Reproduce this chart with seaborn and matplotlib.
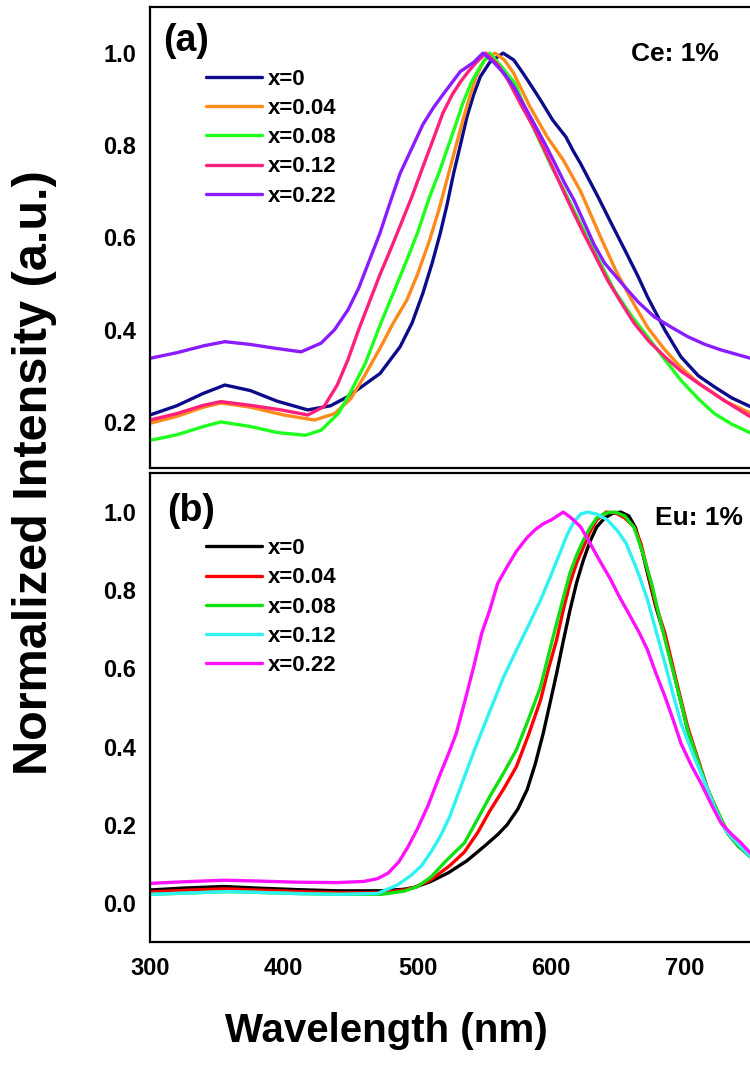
import numpy as np
import pandas as pd
import matplotlib
matplotlib.use("Agg")
import matplotlib.pyplot as plt
from matplotlib.ticker import FixedLocator, MultipleLocator, FormatStrFormatter
import seaborn as sns

# ---------------- data ----------------
labels = ["x=0", "x=0.04", "x=0.08", "x=0.12", "x=0.22"]
x_major = [300, 400, 500, 600, 700]
x_minor = [350, 450, 550, 650, 750]

# Panel (a) Ce: 1%
wl_a0 = [300, 320, 340, 356, 375, 395, 418, 435, 448, 460, 472, 487, 496, 504, 511, 517, 522, 527, 532, 537, 542, 547, 554, 564, 572, 579, 586, 592, 601, 611, 616, 622, 635, 645, 655, 665, 672, 685, 697, 710, 722, 735, 749]
ia_0 = [0.215, 0.235, 0.262, 0.28, 0.268, 0.245, 0.226, 0.235, 0.255, 0.28, 0.305, 0.363, 0.415, 0.479, 0.545, 0.609, 0.67, 0.739, 0.80, 0.862, 0.91, 0.949, 0.98, 1.0, 0.985, 0.956, 0.925, 0.898, 0.855, 0.818, 0.79, 0.76, 0.688, 0.63, 0.573, 0.515, 0.471, 0.399, 0.341, 0.30, 0.276, 0.252, 0.233]

wl_a1 = [300, 320, 340, 353, 375, 400, 423, 438, 450, 460, 472, 482, 492, 500, 509, 516, 522, 528, 534, 539, 544, 550, 558, 565, 572, 584, 597, 609, 622, 637, 648, 660, 672, 685, 697, 710, 730, 749]
ia_1 = [0.197, 0.212, 0.232, 0.241, 0.232, 0.215, 0.204, 0.218, 0.25, 0.298, 0.36, 0.415, 0.464, 0.52, 0.594, 0.66, 0.725, 0.79, 0.855, 0.905, 0.95, 0.985, 1.0, 0.985, 0.956, 0.884, 0.818, 0.768, 0.70, 0.60, 0.53, 0.465, 0.405, 0.356, 0.318, 0.284, 0.245, 0.219]

wl_a2 = [300, 320, 340, 353, 375, 395, 416, 428, 441, 450, 461, 472, 482, 492, 500, 509, 516, 522, 528, 534, 540, 547, 554, 563, 573, 584, 592, 600, 610, 627, 647, 660, 672, 685, 697, 710, 722, 735, 749]
ia_2 = [0.16, 0.172, 0.19, 0.2, 0.19, 0.177, 0.171, 0.182, 0.219, 0.265, 0.327, 0.41, 0.48, 0.551, 0.61, 0.688, 0.74, 0.79, 0.84, 0.892, 0.935, 0.971, 1.0, 0.97, 0.934, 0.855, 0.805, 0.755, 0.70, 0.60, 0.486, 0.43, 0.385, 0.335, 0.29, 0.25, 0.218, 0.195, 0.176]

wl_a3 = [300, 320, 340, 353, 375, 398, 418, 430, 440, 448, 456, 464, 472, 480, 487, 496, 504, 512, 519, 526, 532, 538, 544, 551, 560, 568, 577, 587, 595, 602, 610, 617, 624, 632, 642, 652, 662, 673, 685, 697, 710, 730, 749]
ia_3 = [0.204, 0.218, 0.236, 0.244, 0.236, 0.226, 0.215, 0.233, 0.28, 0.335, 0.40, 0.46, 0.52, 0.575, 0.625, 0.69, 0.753, 0.815, 0.87, 0.91, 0.937, 0.96, 0.98, 1.0, 0.975, 0.94, 0.89, 0.838, 0.79, 0.746, 0.695, 0.652, 0.61, 0.565, 0.508, 0.46, 0.414, 0.375, 0.341, 0.31, 0.284, 0.245, 0.211]

wl_a4 = [300, 320, 340, 356, 375, 393, 413, 428, 438, 448, 456, 464, 472, 480, 487, 496, 504, 512, 519, 526, 532, 542, 549, 557, 565, 572, 580, 587, 595, 602, 610, 617, 625, 632, 640, 655, 665, 677, 690, 702, 715, 727, 738, 749]
ia_4 = [0.338, 0.35, 0.365, 0.374, 0.368, 0.36, 0.352, 0.371, 0.40, 0.443, 0.49, 0.55, 0.61, 0.68, 0.739, 0.795, 0.845, 0.882, 0.91, 0.937, 0.96, 0.98, 1.0, 0.98, 0.955, 0.927, 0.885, 0.848, 0.805, 0.765, 0.718, 0.681, 0.63, 0.585, 0.544, 0.493, 0.46, 0.428, 0.405, 0.385, 0.368, 0.356, 0.347, 0.338]

# Panel (b) Eu: 1%
wl_b0 = [300, 325, 355, 380, 410, 440, 473, 490, 498, 510, 523, 537, 550, 560, 567, 575, 582, 588, 594, 599, 604, 609, 614, 619, 624, 629, 634, 640, 646, 652, 658, 663, 668, 672, 678, 685, 693, 702, 710, 717, 725, 732, 740, 749]
ib_0 = [0.033, 0.038, 0.042, 0.038, 0.034, 0.031, 0.031, 0.035, 0.04, 0.055, 0.077, 0.108, 0.145, 0.175, 0.20, 0.24, 0.29, 0.355, 0.434, 0.51, 0.587, 0.67, 0.749, 0.82, 0.877, 0.925, 0.962, 0.985, 0.997, 1.0, 0.99, 0.96, 0.90, 0.843, 0.76, 0.681, 0.57, 0.442, 0.36, 0.289, 0.225, 0.178, 0.145, 0.118]

wl_b1 = [300, 325, 355, 380, 410, 440, 473, 490, 498, 510, 524, 535, 545, 554, 565, 574, 583, 592, 598, 604, 609, 614, 619, 624, 629, 634, 641, 648, 655, 662, 667, 672, 678, 685, 693, 702, 710, 717, 725, 732, 740, 749]
ib_1 = [0.028, 0.032, 0.036, 0.033, 0.029, 0.026, 0.026, 0.033, 0.04, 0.059, 0.095, 0.13, 0.18, 0.235, 0.295, 0.349, 0.43, 0.519, 0.60, 0.673, 0.75, 0.818, 0.87, 0.91, 0.95, 0.98, 1.0, 0.998, 0.985, 0.962, 0.92, 0.85, 0.765, 0.69, 0.575, 0.45, 0.365, 0.29, 0.228, 0.18, 0.147, 0.118]

wl_b2 = [300, 325, 358, 380, 410, 440, 473, 490, 500, 510, 522, 535, 545, 554, 564, 574, 583, 592, 598, 604, 609, 614, 619, 624, 629, 634, 641, 648, 655, 662, 668, 675, 681, 687, 695, 702, 710, 717, 725, 732, 740, 749]
ib_2 = [0.022, 0.025, 0.029, 0.027, 0.024, 0.022, 0.022, 0.03, 0.042, 0.066, 0.11, 0.153, 0.215, 0.272, 0.33, 0.392, 0.47, 0.553, 0.635, 0.715, 0.78, 0.844, 0.89, 0.928, 0.96, 0.985, 0.998, 1.0, 0.99, 0.96, 0.90, 0.818, 0.73, 0.647, 0.54, 0.442, 0.36, 0.289, 0.23, 0.178, 0.145, 0.118]

wl_b3 = [300, 325, 358, 380, 410, 440, 470, 485, 495, 503, 510, 517, 524, 531, 543, 554, 564, 574, 583, 592, 600, 607, 612, 617, 622, 627, 634, 642, 650, 656, 662, 666, 672, 678, 685, 691, 697, 706, 715, 722, 730, 740, 749]
ib_3 = [0.022, 0.025, 0.029, 0.027, 0.024, 0.022, 0.024, 0.046, 0.07, 0.095, 0.13, 0.17, 0.22, 0.285, 0.395, 0.49, 0.575, 0.647, 0.71, 0.775, 0.84, 0.9, 0.943, 0.975, 0.995, 1.0, 0.995, 0.98, 0.95, 0.92, 0.87, 0.835, 0.775, 0.70, 0.613, 0.535, 0.46, 0.38, 0.306, 0.245, 0.187, 0.15, 0.118]

wl_b4 = [300, 325, 355, 380, 410, 440, 460, 470, 478, 486, 493, 500, 508, 517, 523, 529, 535, 542, 548, 554, 560, 567, 574, 582, 588, 594, 600, 609, 615, 622, 629, 636, 644, 651, 658, 666, 672, 678, 685, 691, 697, 705, 712, 720, 727, 735, 742, 749]
ib_4 = [0.05, 0.054, 0.058, 0.056, 0.053, 0.052, 0.055, 0.062, 0.076, 0.105, 0.144, 0.19, 0.25, 0.33, 0.38, 0.434, 0.511, 0.604, 0.69, 0.749, 0.818, 0.86, 0.90, 0.935, 0.955, 0.97, 0.98, 1.0, 0.985, 0.962, 0.92, 0.877, 0.83, 0.783, 0.74, 0.69, 0.647, 0.59, 0.528, 0.47, 0.408, 0.35, 0.306, 0.25, 0.204, 0.175, 0.153, 0.127]

colors_a = ["#0c0c8a", "#ff8a1c", "#1eff1e", "#ff1f7d", "#8a1cff"]
colors_b = ["#000000", "#ff0000", "#10e010", "#30f2f2", "#ff10ff"]

# ---------------- style ----------------
sns.set_style("white")
plt.rcParams["font.family"] = ["Liberation Sans", "DejaVu Sans"]
plt.rcParams["font.weight"] = "bold"
plt.rcParams["axes.labelweight"] = "bold"
plt.rcParams["text.color"] = "black"
plt.rcParams["axes.labelcolor"] = "black"
plt.rcParams["xtick.color"] = "black"
plt.rcParams["ytick.color"] = "black"

fig = plt.figure(figsize=(7.5, 10.67), dpi=100)
W, H = 750.0, 1067.0
x0 = 150 / W
wfrac = 668.75 / W
ax_a = fig.add_axes([x0, 1 - 468 / H, wfrac, 461 / H])
ax_b = fig.add_axes([x0, 1 - 942 / H, wfrac, 469 / H])

panels = [
    (ax_a, [wl_a0, wl_a1, wl_a2, wl_a3, wl_a4], [ia_0, ia_1, ia_2, ia_3, ia_4], colors_a, (0.1, 1.1),
     [0.2, 0.4, 0.6, 0.8, 1.0]),
    (ax_b, [wl_b0, wl_b1, wl_b2, wl_b3, wl_b4], [ib_0, ib_1, ib_2, ib_3, ib_4], colors_b, (-0.1, 1.1),
     [0.0, 0.2, 0.4, 0.6, 0.8, 1.0]),
]

for ax, wls, ints, cols, ylim, yt in panels:
    for wl, iv, c, lab in zip(wls, ints, cols, labels):
        sns.lineplot(x=wl, y=iv, ax=ax, color=c, linewidth=2.4, label=lab, legend=False)
    ax.set_xlim(300, 800)
    ax.set_ylim(*ylim)
    ax.set_xlabel("")
    ax.set_ylabel("")
    ax.xaxis.set_major_locator(FixedLocator(x_major))
    ax.xaxis.set_minor_locator(FixedLocator(x_minor))
    ax.set_yticks(yt)
    ax.yaxis.set_minor_locator(MultipleLocator(0.1))
    ax.yaxis.set_major_formatter(FormatStrFormatter("%.1f"))
    ax.tick_params(axis="both", which="both", direction="in", width=1.5, colors="black")
    ax.tick_params(axis="x", which="major", length=7, pad=11, labelsize=17)
    ax.tick_params(axis="x", which="minor", length=4)
    ax.tick_params(axis="y", which="both", length=7, pad=10, labelsize=17)
    ax.tick_params(top=False, right=False, which="both")
    for sp in ax.spines.values():
        sp.set_linewidth(1.6)
        sp.set_color("black")

ax_a.tick_params(axis="x", labelbottom=False)
for ax in (ax_a, ax_b):
    for t in ax.get_xticklabels() + ax.get_yticklabels():
        t.set_fontweight("bold")
        t.set_color("black")

# legends
for ax, ytop in ((ax_a, 0.866), (ax_b, 0.861)):
    leg = ax.legend(loc="upper left", bbox_to_anchor=(0.0837, ytop), frameon=False,
                    borderaxespad=0, borderpad=0, handlelength=2.52, handletextpad=0.28,
                    labelspacing=0.37, prop={"size": 16, "weight": "bold"})
    for ln in leg.get_lines():
        ln.set_linewidth(2.4)
    for t in leg.get_texts():
        t.set_color("black")

# panel labels and annotations
ax_a.text(0.019, 0.926, "(a)", transform=ax_a.transAxes, fontsize=27, fontweight="bold", va="center", ha="left")
ax_b.text(0.025, 0.919, "(b)", transform=ax_b.transAxes, fontsize=27, fontweight="bold", va="center", ha="left")
ax_a.text(0.719, 0.898, "Ce: 1%", transform=ax_a.transAxes, fontsize=19, fontweight="bold", va="center", ha="left")
ax_b.text(0.755, 0.904, "Eu: 1%", transform=ax_b.transAxes, fontsize=19, fontweight="bold", va="center", ha="left")

fig.text(35 / W, 1 - 473 / H, "Normalized Intensity (a.u.)", rotation=90, fontsize=35,
         fontweight="bold", ha="center", va="center")
fig.text(386 / W, 1 - 1031 / H, "Wavelength (nm)", fontsize=29, fontweight="bold",
         ha="center", va="center")

fig.savefig("out.png", dpi=100)
